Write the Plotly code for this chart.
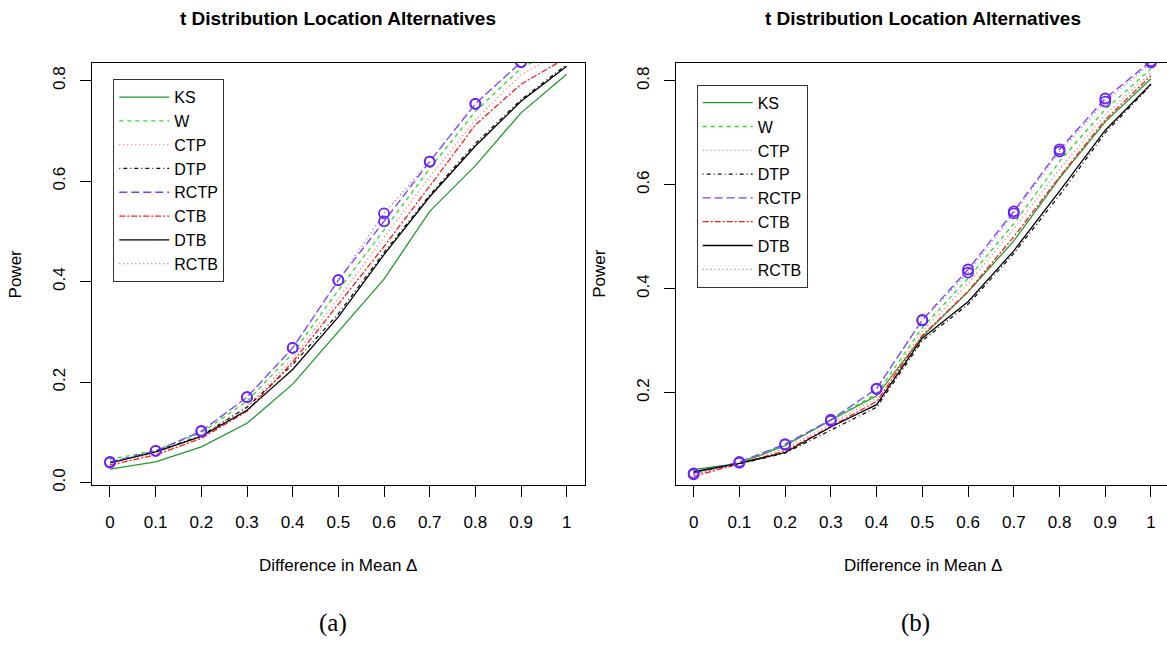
import plotly.graph_objects as go

delta = [0.0, 0.1, 0.2, 0.3, 0.4, 0.5, 0.6, 0.7, 0.8, 0.9, 1.0]
x_ticktext = ["0", "0.1", "0.2", "0.3", "0.4", "0.5", "0.6", "0.7", "0.8", "0.9", "1"]
methods = ["KS", "W", "CTP", "DTP", "RCTP", "CTB", "DTB", "RCTB"]

# Panel (a)
KS_a = [0.027, 0.041, 0.071, 0.118, 0.196, 0.300, 0.405, 0.540, 0.631, 0.736, 0.813]
W_a = [0.046, 0.064, 0.099, 0.162, 0.257, 0.383, 0.503, 0.625, 0.739, 0.825, 0.872]
CTP_a = [0.040, 0.058, 0.093, 0.152, 0.247, 0.368, 0.488, 0.608, 0.722, 0.812, 0.862]
DTP_a = [0.040, 0.062, 0.093, 0.150, 0.235, 0.336, 0.458, 0.572, 0.675, 0.762, 0.832]
RCTP_a = [0.041, 0.063, 0.102, 0.170, 0.268, 0.403, 0.520, 0.639, 0.754, 0.837, 0.895]
CTB_a = [0.035, 0.055, 0.088, 0.142, 0.240, 0.355, 0.470, 0.590, 0.712, 0.793, 0.846]
DTB_a = [0.039, 0.061, 0.092, 0.144, 0.225, 0.330, 0.454, 0.569, 0.670, 0.759, 0.829]
RCTB_a = [0.040, 0.063, 0.103, 0.170, 0.268, 0.403, 0.536, 0.639, 0.754, 0.837, 0.895]

# Panel (b)
KS_b = [0.052, 0.064, 0.098, 0.147, 0.194, 0.308, 0.394, 0.492, 0.613, 0.721, 0.804]
W_b = [0.046, 0.066, 0.100, 0.147, 0.198, 0.325, 0.420, 0.525, 0.645, 0.745, 0.823]
CTP_b = [0.042, 0.064, 0.093, 0.140, 0.190, 0.318, 0.410, 0.515, 0.630, 0.735, 0.816]
DTP_b = [0.046, 0.063, 0.084, 0.128, 0.172, 0.300, 0.370, 0.468, 0.580, 0.700, 0.792]
RCTP_b = [0.045, 0.067, 0.101, 0.148, 0.208, 0.340, 0.437, 0.549, 0.668, 0.766, 0.838]
CTB_b = [0.039, 0.063, 0.088, 0.135, 0.183, 0.310, 0.395, 0.500, 0.615, 0.725, 0.810]
DTB_b = [0.048, 0.064, 0.085, 0.134, 0.177, 0.305, 0.375, 0.473, 0.588, 0.705, 0.794]
RCTB_b = [0.043, 0.065, 0.100, 0.146, 0.207, 0.339, 0.431, 0.545, 0.664, 0.760, 0.835]

series_a = [KS_a, W_a, CTP_a, DTP_a, RCTP_a, CTB_a, DTB_a, RCTB_a]
series_b = [KS_b, W_b, CTP_b, DTP_b, RCTP_b, CTB_b, DTB_b, RCTB_b]

colors = ["#1f9a2a", "#22e022", "#ff6a6a", "#111111", "#7a3cff", "#ff1a1a", "#000000", "#8a66ff"]
dashes = ["solid", "4px,4px", "1px,3px", "1px,3px,4px,3px", "8px,4px", "6px,2px,2px,2px", "solid", "1px,3px"]
marker_color = "#6a22ff"

W, H = 1167, 652
FONT = "Liberation Sans, Arial, sans-serif"

fig = go.Figure()

panels = [("x", "y", "legend", series_a), ("x2", "y2", "legend2", series_b)]
for xa, ya, lg, series in panels:
    for name, vals, c, d in zip(methods, series, colors, dashes):
        fig.add_trace(go.Scatter(
            x=delta, y=vals, mode="lines", name=name, xaxis=xa, yaxis=ya, legend=lg,
            line=dict(color=c, width=1.3, dash=d),
        ))
    for vals in (series[4], series[7]):
        fig.add_trace(go.Scatter(
            x=delta, y=vals, mode="markers", showlegend=False, xaxis=xa, yaxis=ya,
            marker=dict(symbol="circle-open", size=10, color=marker_color,
                        line=dict(width=1.8, color=marker_color)),
        ))

def px(v):
    return v / W

def py(v):
    return (H - v) / H

ydom = [py(490), py(63.3)]

common_x = dict(
    tickvals=delta, ticktext=x_ticktext, ticks="outside", ticklen=11, tickwidth=1,
    tickcolor="black", showgrid=False, zeroline=False, showline=True, linecolor="black",
    linewidth=1, tickfont=dict(family=FONT, size=17, color="black"), ticklabelstandoff=11,
)
common_y = dict(
    ticks="outside", ticklen=11, tickwidth=1, tickcolor="black", showgrid=False,
    zeroline=False, showline=True, linecolor="black", linewidth=1, tickangle=-90,
    tickfont=dict(family=FONT, size=17, color="black"), ticklabelstandoff=8,
)

legend_common = dict(
    bgcolor="white", bordercolor="#333333", borderwidth=1,
    font=dict(family=FONT, size=16, color="black"), xanchor="left", yanchor="top",
    tracegroupgap=0, itemwidth=50,
)

fig.update_layout(
    width=W, height=H, margin=dict(l=0, r=0, t=0, b=0),
    paper_bgcolor="white", plot_bgcolor="white",
    xaxis=dict(domain=[px(91.7), px(585)], range=[-0.04, 1.04], anchor="y", mirror=True, **common_x),
    yaxis=dict(domain=ydom, range=[-0.0043, 0.836], anchor="x", mirror=True,
               tickvals=[0, 0.2, 0.4, 0.6, 0.8], ticktext=["0.0", "0.2", "0.4", "0.6", "0.8"], **common_y),
    xaxis2=dict(domain=[px(676), 1.0], range=[-0.0385, 1.035], anchor="y2", mirror=True, **common_x),
    yaxis2=dict(domain=ydom, range=[0.023, 0.835], anchor="x2", mirror=False,
                tickvals=[0.2, 0.4, 0.6, 0.8], ticktext=["0.2", "0.4", "0.6", "0.8"], **common_y),
    legend=dict(x=px(113.3), y=py(80), **legend_common),
    legend2=dict(x=px(696.7), y=py(85.7), **legend_common),
    showlegend=True,
)

annos = []
for cx in (338.3, 922.5):
    annos.append(dict(text="<b>t Distribution Location Alternatives</b>", x=px(cx), y=py(19),
                      xref="paper", yref="paper", showarrow=False, xanchor="center", yanchor="middle",
                      font=dict(family=FONT, size=19, color="black")))
    annos.append(dict(text="Difference in Mean \u0394", x=px(cx), y=py(572),
                      xref="paper", yref="paper", showarrow=False, xanchor="center", yanchor="middle",
                      font=dict(family=FONT, size=17, color="black")))
for cx, lab in [(333, "(a)"), (915, "(b)")]:
    annos.append(dict(text=lab, x=px(cx), y=py(630), xref="paper", yref="paper", showarrow=False,
                      xanchor="center", yanchor="middle",
                      font=dict(family="Liberation Serif, Times New Roman, serif", size=25, color="black")))
for cx in (15.7, 600):
    annos.append(dict(text="Power", x=px(cx), y=py(276.7), xref="paper", yref="paper", showarrow=False,
                      textangle=-90, xanchor="center", yanchor="middle",
                      font=dict(family=FONT, size=17, color="black")))
fig.update_layout(annotations=annos)

fig.write_html("out.html")
